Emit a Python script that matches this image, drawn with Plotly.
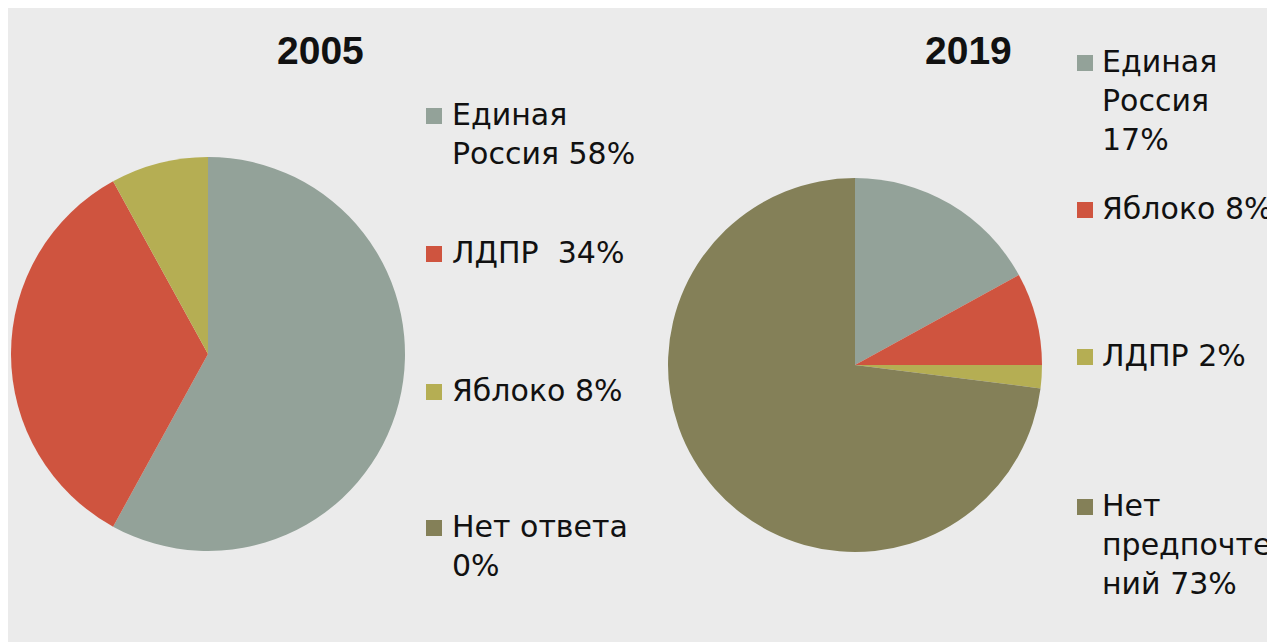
import plotly.graph_objects as go

# ---- data ----
parties_2005 = ["Единая Россия", "ЛДПР", "Яблоко", "Нет ответа"]
values_2005 = [58, 34, 8, 0]
legend_2005 = ["Единая<br>Россия 58%", "ЛДПР  34%", "Яблоко 8%", "Нет ответа<br>0%"]

parties_2019 = ["Единая Россия", "Яблоко", "ЛДПР", "Нет предпочтений"]
values_2019 = [17, 8, 2, 73]
legend_2019 = ["Единая<br>Россия<br>17%", "Яблоко 8%", "ЛДПР 2%", "Нет<br>предпочте<br>ний 73%"]

titles = ["2005", "2019"]
colors = ["#93A299", "#CF543F", "#B5AE53", "#848058"]

# ---- layout helpers ----
W, H = 1275, 642
OFF = 8  # page margin of the browser
BG = "#EBEBEB"
FONT = "DejaVu Sans"
FS = 30


def px(x):
    return (x - OFF) / W


def py(y):
    return 1 - (y - OFF) / H


fig = go.Figure()

fig.add_trace(go.Pie(
    labels=parties_2005, values=values_2005, sort=False, direction="clockwise",
    rotation=0, marker=dict(colors=colors, line=dict(width=0)),
    textinfo="none", showlegend=False,
    domain=dict(x=[px(11), px(405)], y=[py(551), py(157)]),
))
fig.add_trace(go.Pie(
    labels=parties_2019, values=values_2019, sort=False, direction="clockwise",
    rotation=0, marker=dict(colors=colors, line=dict(width=0)),
    textinfo="none", showlegend=False,
    domain=dict(x=[px(668), px(1042)], y=[py(552), py(178)]),
))

annotations = []
shapes = []

# titles
for t, cx in zip(titles, [320, 968]):
    annotations.append(dict(
        text=t, x=px(cx), y=py(50), xref="paper", yref="paper",
        xanchor="center", yanchor="middle", showarrow=False,
        font=dict(family="Liberation Sans", size=39, color="#111111", weight="bold"),
    ))

# legends
legend_specs = [
    (legend_2005, 426, 450, [116, 254, 392, 528]),
    (legend_2019, 1077, 1100, [63, 210, 357, 507]),
]
for labels, sq_x, tx, ys in legend_specs:
    for lab, col, yc in zip(labels, colors, ys):
        annotations.append(dict(
            text=lab, x=px(tx), y=py(yc - 21), xref="paper", yref="paper",
            xanchor="left", yanchor="top", align="left", showarrow=False,
            font=dict(family=FONT, size=FS, color="#111111"),
        ))
        shapes.append(dict(
            type="rect", xref="paper", yref="paper",
            x0=px(sq_x), x1=px(sq_x + 16), y0=py(yc + 8), y1=py(yc - 8),
            fillcolor=col, line=dict(width=0),
        ))

fig.update_layout(
    width=W, height=H,
    margin=dict(l=0, r=0, t=0, b=0),
    paper_bgcolor=BG, plot_bgcolor=BG,
    annotations=annotations, shapes=shapes,
    showlegend=False,
)

fig.write_html("out.html")
